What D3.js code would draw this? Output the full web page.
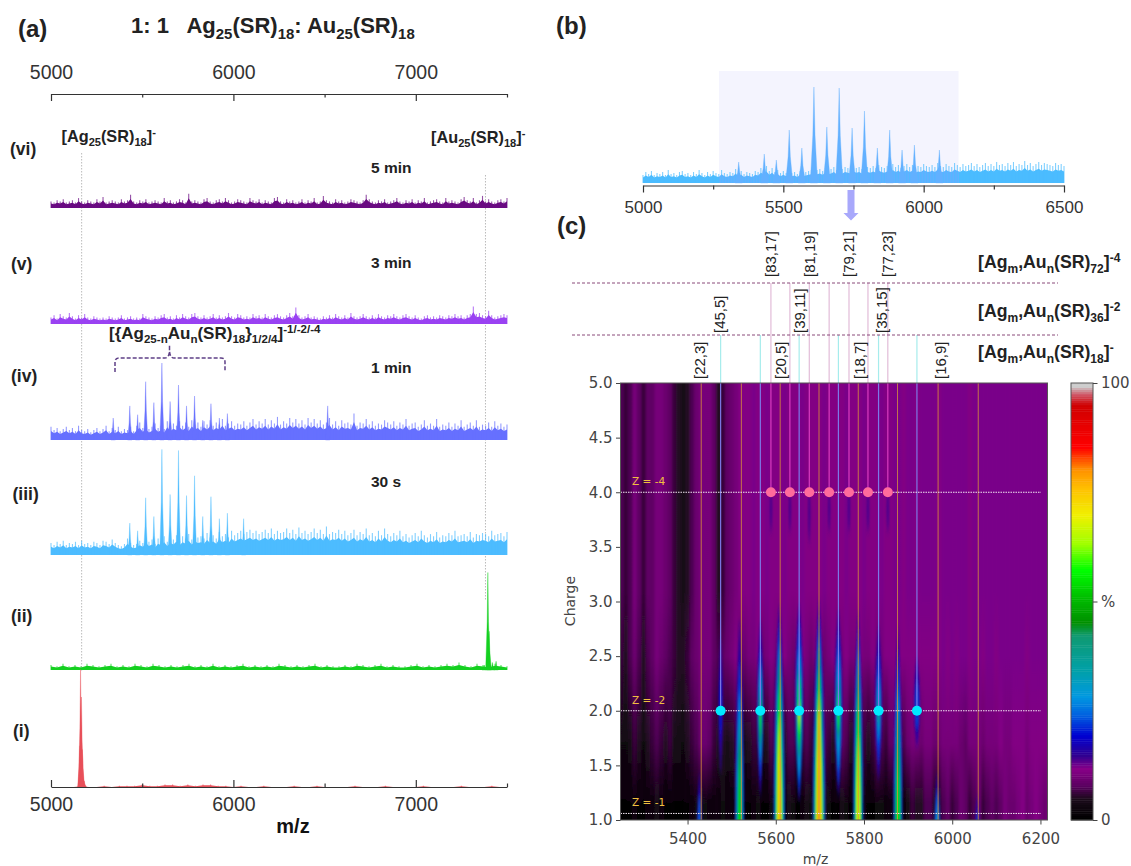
<!DOCTYPE html>
<html>
<head>
<meta charset="utf-8">
<title>Ag25 Au25 reaction spectra</title>
<script src="https://cdn.jsdelivr.net/npm/d3@7"></script>
<style>
  html, body { margin: 0; background: #fff; }
  svg { display: block; }
  text { font-family: "Liberation Sans", Arial, sans-serif; }
  .mpl text { font-family: "DejaVu Sans", sans-serif; }
</style>
</head>
<body>
<div id="chart"></div>
<script>
// Spectrum noise, values read by eye. Each list covers the whole m/z range of its panel
const noiseVi = [6,5,7,6,8,5,6,7,5,9,6,5,7,6,5,8,6,10,5,6,7,6,5,8,6,7,12,6,5,7,6,8,5,6,7,6,5,9,6,7,5,6,8,7,5,13,6,7,6,5,8,9,6,5,7,8,6,9,7,5,6,8,7,6,5,9,7,6,8,5,7,6,5,9,10,6,5,8,6,7,5,6,8,5,7,6,9,5,6,11,7,6,5,8,6,7,5,6,8,7,6,5,7,12,8,6,5,7,6,8,5,6,7,9,6,5,7,6,8,5,7,6,9,5,6,7,8,6,5,9,6,7,6,5,8,10,7,6,9,5,7,11,6,8,6,5,7,8,6,9];
const noiseV = [6,8,5,9,7,6,10,7,5,8,6,9,6,5,7,6,5,6,5,7,6,5,6,8,5,6,7,5,6,5,9,7,6,5,7,6,8,9,6,7,5,8,6,9,7,6,9,10,7,6,8,6,7,9,6,8,6,7,10,7,6,9,8,6,7,6,9,7,8,6,9,7,6,8,9,7,6,8,10,7,15,8,6,7,9,6,7,6,5,7,6,8,6,9,7,6,8,6,10,7,6,7,9,7,6,8,6,9,7,6,8,7,9,7,6,8,9,7,6,8,6,5,7,8,6,7,6,8,7,6,8,7,9,7,8,6,8,9,16,9,10,8,7,12,8,6,7,8,9,8];
const noiseIv = [12,9,11,8,10,12,9,11,8,13,9,8,10,7,9,11,8,10,13,8,11,9,12,8,10,9,12,8,13,16,11,14,10,12,15,11,13,10,17,12,15,13,17,13,16,12,18,14,16,12,17,14,18,13,16,14,19,13,15,17,13,15,14,17,13,16,19,14,17,15,19,14,18,15,21,14,17,15,20,16,19,15,18,14,20,16,19,15,18,14,16,20,14,17,13,18,15,16,14,24,13,16,15,19,14,17,13,15,14,18,16,14,17,13,16,14,19,13,15,16,12,14,18,13,15,13,19,12,14,13,16,12,15,13,18,12,14,16,13,18,12,14,13,16,12,17,13,15,12,14];
const noiseIii = [11,9,12,10,13,9,11,10,12,9,13,10,11,9,12,11,9,13,12,10,14,11,9,8,10,15,11,9,10,13,11,16,12,14,10,15,13,17,12,16,14,18,13,17,15,19,14,18,16,17,15,20,16,18,15,21,17,19,16,22,18,20,22,19,21,23,20,22,19,21,23,20,24,19,22,20,21,24,20,23,19,25,20,22,19,21,24,20,23,19,26,19,21,20,23,19,22,18,20,23,18,21,19,24,18,20,17,22,18,24,19,17,20,18,22,17,19,16,18,20,17,22,18,16,19,17,21,16,18,17,20,18,22,17,18,19,17,21,16,19,18,20,19,17,22,18,19,20,17,21];
const noiseIi = [4,3,5,3,4,3,5,4,3,4,5,3,4,3,5,4,3,5,4,3,4,3,4,5,3,4,3,5,3,4,3,4,5,3,4,3,4,3,5,4,3,4,3,4,5,3,4,3,3,4,3,5,4,3,4,5,3,4,3,3,4,5,3,4,3,4,5,4,6,4,3,5,4,3,5,4,3];
const noiseI = [0,0,0,0,1,0,0,1,0,1,1,1,2,1,1,2,2,1,2,1,2,2,1,1,0,1,0,0,1,0,0,0,1,0,0,1,0,0,0,0,1,0,0,0,1,0,0,0,0,1,0,0,0,0,1,0,0,0,1,0,0];
const noiseB = [8,11,9,12,8,10,9,11,8,13,9,10,8,11,12,9,10,8,11,9,13,10,8,11,9,12,10,9,13,10,9,11,10,14,10,12,9,11,10,9,12,11,15,13,17,12,15,11,13,10,12,10,13,10,11,9,12,10,11,12,13,11,13,14,12,15,13,14,16,13,17,14,16,15,14,17,15,16,14,18,16,15,17,15,18,16,15,17,15,19,16,18,15,17,19,16,18,15,17,16,19,17,16,18,16,20,17,16,19,17,16,20,18,16,19,17,18,20,17,19,16,18,20,17,19,17,21,18,19,17,20,18,21,17,19,18,22,18,20,17,19,21,18,20,19,18,17,20,18,19,17];

// Peaks [m/z, intensity]
const peaksIv = [[5341,20],[5432,31],[5475,23],[5519,53],[5564,34],[5608,70],[5653,35],[5699,50],[5743,31],[5787,40],[5832,18],[5877,33],[5923,20],[5967,24],[6517,31]];
const peaksIii = [[5432,29],[5475,22],[5519,52],[5564,35],[5608,96],[5653,55],[5699,95],[5743,54],[5787,72],[5832,35],[5877,53],[5923,33],[5967,38],[6056,33]];
const peaksIi = [[7395,78],[7402,31],[7375,4],[7420,6],[7440,7]];
const peaksI = [[5158,33],[5162,94],[5167,72],[5172,30],[5182,5]];
const peaksB = [[5341,21],[5432,29],[5475,23],[5521,53],[5566,35],[5609,96],[5655,56],[5699,95],[5745,55],[5789,72],[5835,35],[5879,53],[5923,33],[5967,38],[6056,33]];

// Charge map background, one value per 10 m/z column from 5250, in % of the colour bar
const heatTop = [7,6,7,10,8,6,8,8,10,10,9,8,6,5,4,5,7,9,10,10,10,8,5,6,8,9,10,11,11,11,12,11,11,12,11,11,11,12,11,11,11,12,11,11,11,11,12,11,11,11,11,12,11,11,11,12,11,11,11,12,11,11,12,12,11,12,12,11,12,12,12,12,11,12,12,12,12,12,12,11,12,12,12,12,12,12,12,12,12,12,12,12,12,12,12,12,12];
const heatUpper = [6,5,7,9,7,5,7,8,10,9,8,7,6,5,5,6,8,9,10,10,10,8,7,8,9,10,11,9,9,10,10,11,9,10,11,10,10,11,10,9,10,11,10,9,10,11,9,10,11,10,10,11,10,10,11,10,10,11,10,10,11,11,11,11,11,11,11,11,11,11,11,11,11,12,11,12,11,12,12,11,12,12,11,12,12,11,12,12,12,12,12,12,11,12,12,12,12];
const heatLower = [3,3,4,6,5,3,5,6,7,6,5,6,4,4,3,5,6,7,9,9,8,6,5,5,4,5,6,6,4,5,6,6,4,5,7,6,4,5,7,7,4,6,7,6,4,6,7,6,5,6,8,7,5,6,8,6,5,6,8,7,6,8,9,8,7,9,10,10,9,10,10,9,9,10,10,10,10,9,8,10,10,10,9,10,10,10,11,10,10,11,11,11,10,11,11,11,11];
const heatBase = [1,1,1,2,1,1,2,2,4,2,1,1,1,1,1,1,2,3,4,3,2,2,2,3,2,2,4,3,1,1,2,3,1,1,3,3,1,1,4,3,1,2,4,3,1,2,4,3,1,1,4,3,1,1,3,2,1,1,3,3,2,2,4,4,2,4,6,5,5,7,7,5,5,7,8,6,7,9,8,6,7,9,6,7,8,7,8,10,9,9,10,11,9,10,11,10,9];
const heatRowCharges = [3.1, 2.5, 1.7, 1.15];

// Ridges of the charge map: m/z and nested levels [%, charge low, charge high, half width in m/z]
const ridgeMz = [5427,5475,5518,5565,5608,5653,5698,5742,5787,5833,5877,5920,5966,6057,5589,5632,5676,5721,5766,5809,5854];
const ridgeLevels = [
  [[16,-0.2,1.45,6],[24,-0.2,1.25,4]],
  [[15,1.4,2.7,4],[20,1.7,2.4,2.5]],
  [[16,-0.8,2.85,8],[22,-0.8,2.5,7],[30,-0.8,2.2,6],[45,-0.8,1.9,4.5],[55,-0.8,1.6,3]],
  [[16,1.2,2.85,5.5],[22,1.35,2.6,4.5],[30,1.5,2.45,3.5],[45,1.65,2.2,2.2],[55,1.75,2.1,1.5]],
  [[16,-0.8,3.0,10],[22,-0.8,2.85,9],[30,-0.8,2.65,8],[45,-0.8,2.5,6.5],[56,-0.8,2.3,5.5],[68,-0.8,2.0,4],[76,-0.8,1.7,3]],
  [[16,1.15,3.0,7],[22,1.2,2.85,6],[30,1.35,2.6,5],[45,1.55,2.4,3.5],[56,1.65,2.35,2.5],[66,1.8,2.1,1.6]],
  [[16,-0.8,3.05,11],[22,-0.8,2.9,10],[30,-0.8,2.7,9],[45,-0.8,2.6,7.5],[56,-0.8,2.4,6.5],[68,-0.8,2.2,5],[78,-0.8,2.0,3.5]],
  [[16,1.2,2.95,6.5],[22,1.3,2.75,5.5],[30,1.45,2.55,4],[45,1.7,2.3,2.5],[56,1.8,2.2,1.8]],
  [[16,-0.8,2.95,9],[22,-0.8,2.8,8],[30,-0.8,2.6,7],[45,-0.8,2.4,6],[56,-0.8,2.2,5],[68,-0.8,1.8,3.5]],
  [[16,1.35,2.8,6],[22,1.5,2.55,4.5],[30,1.7,2.35,3],[38,1.85,2.15,2]],
  [[16,-0.8,2.8,8],[22,-0.8,2.6,7],[30,-0.8,2.3,6],[45,-0.8,2.0,5],[55,-0.8,1.7,3.5]],
  [[16,1.65,2.5,5],[22,1.8,2.3,3.5]],
  [[16,-0.2,1.45,7],[24,-0.2,1.3,5.5],[30,-0.2,1.15,4]],
  [[16,-0.2,1.25,6],[22,-0.2,1.12,4]],
  [[14,3.6,4.1,2]],[[14,3.6,4.1,2]],[[14,3.5,4.1,2]],[[14,3.6,4.1,2]],[[14,3.6,4.1,2]],[[14,3.6,4.1,2]],[[14,3.6,4.1,2]]
];

// Assignment lines and dots on the charge map
const mzZ4 = [5589,5632,5676,5721,5766,5809,5854];
const mzZ2 = [5475,5565,5653,5742,5833,5920];
const mzZ1 = [5431,5522,5610,5698,5787,5876,5968,6059];
const zLines = [4.0, 2.0, 1.06];
const zLabels = ["Z = -4", "Z = -2", "Z = -1"];

// Rotated assignment labels: text and m/z of the line
const labelsZ1 = [["[22,3]",5428],["[20,5]",5612],["[18,7]",5792],["[16,9]",5974]];
const labelsZ2 = [["[45,5]",5473],["[39,11]",5655],["[35,15]",5840]];
const labelsZ4 = [["[83,17]",5589],["[81,19]",5677],["[79,21]",5767],["[77,23]",5855]];

// Colour bar stops
const cmapStops = [0,4.6,7.6,11.5,14.5,19,23.7,28,34,42,45,51,57,63,69.5,75.6,80,85,94.6,97,99,100];
const cmapColors = ["#000000","#1a0a1a","#5a0060","#880088","#300090","#0000d0","#0060e0","#0098e0","#00a0a8","#109a70","#009000","#00c000","#00ff00","#a0ff00","#f0f000","#ffc000","#ff9000","#ff0000","#d00000","#d05060","#cccccc","#cccccc"];

const colormap = d3.scaleLinear().domain(cmapStops).range(cmapColors);

const svg = d3.select("#chart").append("svg")
  .attr("width", 1131)
  .attr("height", 866);
const defs = svg.append("defs");

// Text with subscripts and superscripts, segments are [text, "sub" | "sup" | ""]
function richText(x, y, size, segments, fill) {
  const t = svg.append("text")
    .attr("x", x).attr("y", y)
    .attr("font-size", size)
    .attr("font-weight", "bold")
    .attr("fill", fill || "#222")
    .attr("xml:space", "preserve")
    .style("white-space", "pre");
  let shift = 0;
  segments.forEach(function(s) {
    const target = s[1] === "sub" ? size * 0.26 : s[1] === "sup" ? -size * 0.36 : 0;
    t.append("tspan")
      .attr("dy", target - shift)
      .attr("font-size", s[1] ? size * 0.68 : size)
      .text(s[0]);
    shift = target;
  });
}

function plainBold(x, y, size, label) {
  svg.append("text").attr("x", x).attr("y", y)
    .attr("font-size", size).attr("font-weight", "bold").attr("fill", "#222").text(label);
}

/* Panel (a): six stacked spectra */
const xA = d3.scaleLinear().domain([5000, 7500]).range([51, 507]);
const traces = [
  {noise: noiseVi, peaks: [], base: 208, height: 110, color: "#6a0a82"},
  {noise: noiseV, peaks: [], base: 324, height: 110, color: "#9a42f2"},
  {noise: noiseIv, peaks: peaksIv, base: 440, height: 110, color: "#6670ff"},
  {noise: noiseIii, peaks: peaksIii, base: 555, height: 110, color: "#4dbcff"},
  {noise: noiseIi, peaks: peaksIi, base: 670, height: 125, color: "#14d020"},
  {noise: noiseI, peaks: peaksI, base: 787, height: 125, color: "#e8505a"}
];

// Dotted guides for the two parent clusters
svg.append("line").attr("x1", xA(5168)).attr("x2", xA(5168)).attr("y1", 153).attr("y2", 672)
  .attr("stroke", "#bbb").attr("stroke-dasharray", "1.5,1.5");
svg.append("line").attr("x1", xA(7382)).attr("x2", xA(7382)).attr("y1", 175).attr("y2", 600)
  .attr("stroke", "#bbb").attr("stroke-dasharray", "1.5,1.5");

// Draw one spectrum: solid band, a hair for each noise value, peaks as narrow spikes
function drawTrace(x, tr, fill, halfWidth) {
  const y = d3.scaleLinear().domain([0, 100]).range([tr.base, tr.base - tr.height]);
  const index = d3.scaleLinear().domain([0, tr.noise.length - 1]).range(x.domain());
  const area = d3.area()
    .x(d => x(d[0]))
    .y0(tr.base)
    .y1(d => y(d[1]));
  const g = svg.append("g");
  g.append("path")
    .datum(tr.noise.map((v, i) => [index(i), v * 0.68]))
    .attr("d", area)
    .attr("fill", fill);
  g.selectAll(".hair")
    .data(tr.noise)
    .enter()
    .append("line")
    .attr("class", "hair")
    .attr("x1", (d, i) => x(index(i)))
    .attr("x2", (d, i) => x(index(i)))
    .attr("y1", tr.base)
    .attr("y2", d => y(d))
    .attr("stroke", tr.color || "#4bbcff")
    .attr("stroke-opacity", 0.7)
    .attr("stroke-width", 1.1);
  g.selectAll(".peak")
    .data(tr.peaks)
    .enter()
    .append("path")
    .attr("class", "peak")
    .attr("d", d => area([
      [d[0] - halfWidth, 0],
      [d[0] - halfWidth * 0.3, d[1] * 0.5],
      [d[0], d[1]],
      [d[0] + halfWidth * 0.3, d[1] * 0.5],
      [d[0] + halfWidth, 0]
    ]))
    .attr("fill", fill)
    .attr("stroke", fill)
    .attr("stroke-opacity", 0.5)
    .attr("stroke-width", 0.7);
}
traces.forEach(tr => drawTrace(xA, tr, tr.color, 12));

// Top and bottom axes of panel (a)
const axisTicksA = [5000, 5500, 6000, 6500, 7000, 7500];
function styleAxisA(g, up) {
  g.select(".domain").attr("stroke", "#333").attr("stroke-width", 1.2);
  g.selectAll(".tick line")
    .attr("stroke", "#333").attr("stroke-width", 1.2)
    .attr("y2", d => (d % 1000 === 0 ? 7 : 3.5) * (up ? -1 : 1));
  g.selectAll(".tick text")
    .attr("font-size", 19.5).attr("fill", "#333")
    .style("font-family", "'Liberation Sans'");
}
const formatA = d => (d % 1000 === 0 && d < 7500) ? d : "";

const topA = svg.append("g").attr("transform", "translate(0,94)")
  .call(d3.axisBottom(xA).tickValues(axisTicksA).tickFormat(formatA).tickSizeOuter(0));
styleAxisA(topA, false);
topA.selectAll(".tick text").attr("y", -15).attr("dy", 0);

const bottomA = svg.append("g").attr("transform", "translate(0,787)")
  .call(d3.axisTop(xA).tickValues(axisTicksA).tickFormat(formatA).tickSizeOuter(0));
styleAxisA(bottomA, true);
bottomA.selectAll(".tick text").attr("y", 24).attr("dy", 0);

plainBold(18, 37, 24, "(a)");
richText(131, 33, 22, [["1: 1   Ag",""],["25","sub"],["(SR)",""],["18","sub"],[": Au",""],["25","sub"],["(SR)",""],["18","sub"]]);
richText(61.5, 142, 16.3, [["[Ag",""],["25","sub"],["(SR)",""],["18","sub"],["]",""],["-","sup"]]);
richText(431, 143, 16.3, [["[Au",""],["25","sub"],["(SR)",""],["18","sub"],["]",""],["-","sup"]]);
richText(109, 339, 17, [["[{Ag",""],["25-n","sub"],["Au",""],["n","sub"],["(SR)",""],["18","sub"],["}",""],["1/2/4","sub"],["]",""],["-1/-2/-4","sup"]]);

const romanLabels = ["(vi)", "(v)", "(iv)", "(iii)", "(ii)", "(i)"];
const romanX = [10, 11, 11, 12.5, 11, 13];
const romanY = [155, 270, 382, 500, 622, 737];
romanLabels.forEach((d, i) => plainBold(romanX[i], romanY[i], 17.5, d));

const timeLabels = ["5 min", "3 min", "1 min", "30 s"];
const timeY = [173, 268, 373, 487];
timeLabels.forEach((d, i) => plainBold(371, timeY[i], 15.5, d));

svg.append("text").attr("x", 293).attr("y", 833).attr("text-anchor", "middle")
  .attr("font-size", 20).attr("font-weight", "bold").attr("fill", "#111").text("m/z");

// Dashed brace over the alloy peaks
svg.append("path")
  .attr("d", "M115,372 L115,362 Q115,358 119,358 L165,358 Q169,358 169.5,351 L169.5,345 L169.5,351 Q170,358 174,358 L221,358 Q225,358 225,362 L225,372")
  .attr("fill", "none").attr("stroke", "#5e3f86").attr("stroke-width", 1.5).attr("stroke-dasharray", "4,2");

/* Panel (b): zoomed spectrum with the selected window */
const xB = d3.scaleLinear().domain([5000, 6500]).range([643, 1064]);
plainBold(556, 34, 24, "(b)");

const gradB = defs.append("linearGradient").attr("id", "bFill")
  .attr("gradientUnits", "userSpaceOnUse")
  .attr("x1", xB(5000)).attr("x2", xB(6500)).attr("y1", 0).attr("y2", 0);
const gradStops = [[0, "#4bbcff"], [0.18, "#4bbcff"], [0.18, "#62b0ff"], [0.75, "#62b0ff"], [0.75, "#4bbcff"], [1, "#4bbcff"]];
gradStops.forEach(s => gradB.append("stop").attr("offset", s[0]).attr("stop-color", s[1]));

svg.append("rect")
  .attr("x", 719).attr("y", 71).attr("width", 239.5).attr("height", 112)
  .attr("fill", "#f4f4fe");
drawTrace(xB, {noise: noiseB, peaks: peaksB, base: 183, height: 100}, "url(#bFill)", 13);

const axisB = svg.append("g").attr("transform", "translate(0,185.5)")
  .call(d3.axisBottom(xB).tickValues([5000,5250,5500,5750,6000,6250,6500])
    .tickFormat(d => d % 500 === 0 ? d : "").tickSizeOuter(0));
axisB.select(".domain").attr("stroke", "#333").attr("stroke-width", 1.2);
axisB.selectAll(".tick line").attr("stroke", "#333").attr("stroke-width", 1.2)
  .attr("y2", d => d % 500 === 0 ? 7 : 4);
axisB.selectAll(".tick text").attr("y", 27).attr("dy", 0)
  .attr("font-size", 17).attr("fill", "#333").style("font-family", "'Liberation Sans'");

// Arrow from (b) to (c)
svg.append("path")
  .attr("d", "M847.5,190 L854.5,190 L854.5,213 L858.5,213 L851,220.5 L843.5,213 L847.5,213 Z")
  .attr("fill", "#a8a8fb");

/* Panel (c): charge map */
plainBold(557, 234, 24, "(c)");
const xC = d3.scaleLinear().domain([5248, 6216]).range([620.5, 1047.5]);
const yC = d3.scaleLinear().domain([1, 5]).range([820, 383]);

defs.append("clipPath").attr("id", "mapClip").append("rect")
  .attr("x", xC.range()[0]).attr("y", yC(5))
  .attr("width", xC.range()[1] - xC.range()[0]).attr("height", yC(1) - yC(5));
const blurBack = defs.append("filter").attr("id", "blurBack")
  .attr("filterUnits", "userSpaceOnUse").attr("x", 560).attr("y", 300).attr("width", 560).attr("height", 560);
blurBack.append("feGaussianBlur").attr("stdDeviation", "1 0");
const blurRidge = defs.append("filter").attr("id", "blurRidge")
  .attr("filterUnits", "userSpaceOnUse").attr("x", 560).attr("y", 300).attr("width", 560).attr("height", 560);
blurRidge.append("feGaussianBlur").attr("stdDeviation", "0.8 2.5");

const map = svg.append("g").attr("clip-path", "url(#mapClip)");
map.append("rect")
  .attr("x", xC.range()[0]).attr("y", yC(5))
  .attr("width", 427).attr("height", 437).attr("fill", colormap(11));

// Each background column is one rect with a vertical gradient through its four rows
const heatRows = [heatTop, heatUpper, heatLower, heatBase];
heatTop.forEach(function(d, i) {
  const grad = defs.append("linearGradient").attr("id", "col" + i)
    .attr("x1", 0).attr("x2", 0).attr("y1", 0).attr("y2", 1);
  heatRows.forEach(function(row, r) {
    grad.append("stop")
      .attr("offset", (5 - heatRowCharges[r]) / 4)
      .attr("stop-color", colormap(row[i]));
  });
});
const back = map.append("g").attr("filter", "url(#blurBack)");
back.selectAll("rect")
  .data(heatTop)
  .enter()
  .append("rect")
  .attr("x", (d, i) => xC(5245 + i * 10))
  .attr("width", xC(5255) - xC(5245) + 0.5)
  .attr("y", yC(5))
  .attr("height", yC(1) - yC(5))
  .attr("fill", (d, i) => "url(#col" + i + ")");

// Nested contours of each ridge, lens shaped
function lensPath(mz, level) {
  const zLow = level[1], zHigh = level[2], hw = level[3] * 1.3;
  const zMid = (zLow + zHigh) / 2;
  const p = d3.path();
  p.moveTo(xC(mz), yC(zHigh));
  p.quadraticCurveTo(xC(mz + 2 * hw), yC(zMid), xC(mz), yC(zLow));
  p.quadraticCurveTo(xC(mz - 2 * hw), yC(zMid), xC(mz), yC(zHigh));
  p.closePath();
  return p.toString();
}
const ridges = map.append("g").attr("filter", "url(#blurRidge)");
ridgeMz.forEach(function(mz, i) {
  ridges.selectAll(null)
    .data(ridgeLevels[i])
    .enter()
    .append("path")
    .attr("d", d => lensPath(mz, d))
    .attr("fill", d => colormap(d[0]));
});

// Assignment lines inside the map
mzZ1.forEach(d => map.append("line").attr("x1", xC(d)).attr("x2", xC(d)).attr("y1", yC(5)).attr("y2", yC(1))
  .attr("stroke", "#d8903c").attr("stroke-opacity", 0.8));
mzZ2.forEach(d => map.append("line").attr("x1", xC(d)).attr("x2", xC(d)).attr("y1", yC(5)).attr("y2", yC(2))
  .attr("stroke", "#7c78e8").attr("stroke-width", 1.2));
mzZ4.forEach(d => map.append("line").attr("x1", xC(d)).attr("x2", xC(d)).attr("y1", yC(5)).attr("y2", yC(4))
  .attr("stroke", "#d83cc0").attr("stroke-width", 1.2));

zLines.forEach(function(z, i) {
  map.append("line").attr("x1", xC.range()[0]).attr("x2", 1041).attr("y1", yC(z)).attr("y2", yC(z))
    .attr("stroke", "#f2e8f2").attr("stroke-dasharray", "1.5,1");
  svg.append("text").attr("class", "zlabel").attr("x", 632).attr("y", yC(z) - 7)
    .attr("font-size", 10.5).attr("fill", "#f0c040").style("font-family", "'DejaVu Sans'").text(zLabels[i]);
});

map.selectAll(".dotZ4").data(mzZ4).enter().append("circle")
  .attr("cx", d => xC(d)).attr("cy", yC(4)).attr("r", 5).attr("fill", "#ff6b9c");
map.selectAll(".dotZ2").data(mzZ2).enter().append("circle")
  .attr("cx", d => xC(d)).attr("cy", yC(2)).attr("r", 5).attr("fill", "#00eaff");

// Same lines above the map, paler
mzZ2.forEach(d => svg.append("line").attr("x1", xC(d)).attr("x2", xC(d)).attr("y1", 335).attr("y2", yC(5))
  .attr("stroke", "#a6ecec").attr("stroke-width", 1.2));
mzZ4.forEach(d => svg.append("line").attr("x1", xC(d)).attr("x2", xC(d)).attr("y1", 283).attr("y2", yC(5))
  .attr("stroke", "#e2bcd8").attr("stroke-width", 1.2));

// Axes of the map
const mapAxes = svg.append("g").attr("class", "mpl");
const axisCx = mapAxes.append("g").attr("transform", "translate(0,820)")
  .call(d3.axisBottom(xC).tickValues([5400,5600,5800,6000,6200]).tickSize(4.5).tickSizeOuter(0).tickFormat(d3.format("d")));
const axisCy = mapAxes.append("g").attr("transform", "translate(620.5,0)")
  .call(d3.axisLeft(yC).tickValues(d3.range(1, 5.01, 0.5)).tickSize(4.5).tickSizeOuter(0).tickFormat(d3.format(".1f")));
[axisCx, axisCy].forEach(function(g) {
  g.select(".domain").remove();
  g.selectAll(".tick line").attr("stroke", "#444");
  g.selectAll(".tick text").attr("font-size", 15).attr("fill", "#444")
    .style("font-family", "'DejaVu Sans'");
});
axisCx.selectAll(".tick text").attr("y", 10).attr("dy", "0.9em");
axisCy.selectAll(".tick text").attr("x", -8);
mapAxes.append("rect")
  .attr("x", xC.range()[0]).attr("y", yC(5)).attr("width", 427).attr("height", 437)
  .attr("fill", "none").attr("stroke", "#555");
mapAxes.append("text").attr("x", 815.5).attr("y", 864).attr("text-anchor", "middle")
  .attr("font-size", 14).attr("fill", "#444").style("font-family", "'DejaVu Sans'").text("m/z");
mapAxes.append("text").attr("transform", "translate(575,601) rotate(-90)").attr("text-anchor", "middle")
  .attr("font-size", 14).attr("fill", "#444").style("font-family", "'DejaVu Sans'").text("Charge");

// Dashed separators and assignment labels
[283, 335].forEach(y => svg.append("line").attr("x1", 572).attr("x2", 1058).attr("y1", y).attr("y2", y)
  .attr("stroke", "#8a4a7a").attr("stroke-dasharray", "3,2"));

function rotatedLabels(list, bottom) {
  svg.selectAll(null)
    .data(list)
    .enter()
    .append("text")
    .attr("transform", d => "translate(" + (xC(d[1]) + 5) + "," + bottom + ") rotate(-90)")
    .attr("font-size", 15)
    .attr("fill", "#222")
    .text(d => d[0]);
}
rotatedLabels(labelsZ1, 379);
rotatedLabels(labelsZ2, 333);
rotatedLabels(labelsZ4, 277);

richText(978, 268, 17.7, [["[Ag",""],["m","sub"],[",Au",""],["n","sub"],["(SR)",""],["72","sub"],["]",""],["-4","sup"]]);
richText(978, 317, 17.7, [["[Ag",""],["m","sub"],[",Au",""],["n","sub"],["(SR)",""],["36","sub"],["]",""],["-2","sup"]]);
richText(978, 358, 17.7, [["[Ag",""],["m","sub"],[",Au",""],["n","sub"],["(SR)",""],["18","sub"],["]",""],["-","sup"]]);

// Colour bar
const yBar = d3.scaleLinear().domain([0, 100]).range([820, 383]);
const bar = svg.append("g").attr("class", "mpl");
bar.selectAll("rect")
  .data(d3.range(0, 100, 0.5))
  .enter()
  .append("rect")
  .attr("x", 1071).attr("width", 22)
  .attr("y", d => yBar(d + 0.5)).attr("height", yBar(0) - yBar(0.6))
  .attr("fill", d => colormap(d));
bar.append("rect").attr("x", 1071).attr("y", 383).attr("width", 22).attr("height", 437)
  .attr("fill", "none").attr("stroke", "#555");
const barAxis = bar.append("g").attr("transform", "translate(1093,0)")
  .call(d3.axisRight(yBar).tickValues([0, 50, 100]).tickSize(4.5).tickSizeOuter(0)
    .tickFormat(d => d === 50 ? "%" : d));
barAxis.select(".domain").remove();
barAxis.selectAll(".tick line").attr("stroke", "#444");
barAxis.selectAll(".tick text").attr("font-size", 15).attr("fill", "#444").attr("x", 8)
  .style("font-family", "'DejaVu Sans'");
</script>
</body>
</html>
